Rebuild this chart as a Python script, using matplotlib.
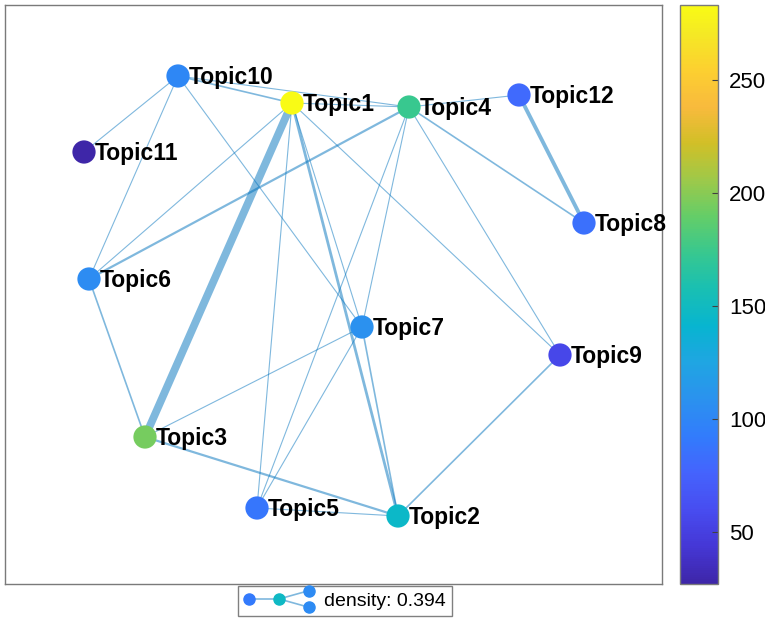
import matplotlib
matplotlib.use('Agg')
import matplotlib.pyplot as plt
from matplotlib.colors import LinearSegmentedColormap
from matplotlib.legend_handler import HandlerBase
from matplotlib.lines import Line2D

plt.rcParams['font.family'] = ['Liberation Sans', 'DejaVu Sans']

# Topic nodes: layout coordinates and node value (colour)
topics = ['Topic1', 'Topic2', 'Topic3', 'Topic4', 'Topic5', 'Topic6',
          'Topic7', 'Topic8', 'Topic9', 'Topic10', 'Topic11', 'Topic12']
node_x = [2.92, 3.98, 1.45, 4.09, 2.57, 0.89, 3.62, 5.84, 5.60, 1.78, 0.84, 5.19]
node_y = [5.17, 1.04, 1.83, 5.13, 1.12, 3.41, 2.93, 3.97, 2.65, 5.44, 4.68, 5.25]
node_value = [283, 145, 194, 173, 88, 104, 108, 84, 55, 100, 27, 80]

# Edges (1-based topic numbers) and their weights
edge_src = [10, 10, 10, 10, 10, 1, 1, 1, 1, 1, 1, 4, 4, 4, 4, 4, 4, 12, 6, 3, 3, 5, 5, 7, 9, 1]
edge_dst = [11, 6, 1, 4, 7, 3, 5, 2, 6, 9, 4, 6, 12, 8, 5, 7, 9, 8, 3, 7, 2, 7, 2, 2, 2, 7]
edge_weight = [2, 2, 3, 2, 2, 14, 2, 5, 2, 2, 2, 4, 2, 3, 2, 2, 2, 7, 3, 2, 4, 2, 2, 3, 3, 2]

cbar_ticks = [50, 100, 150, 200, 250]

# parula-like colormap
parula_pts = [
    (0.2422, 0.1504, 0.6603), (0.2706, 0.2147, 0.8364), (0.2813, 0.3006, 0.9414),
    (0.2699, 0.3892, 0.9906), (0.1963, 0.4847, 0.9892), (0.1687, 0.5703, 0.9359),
    (0.1248, 0.6459, 0.8883), (0.0297, 0.7082, 0.8163), (0.0964, 0.7486, 0.7031),
    (0.2161, 0.7827, 0.5637), (0.3909, 0.8049, 0.4092), (0.6174, 0.7876, 0.2881),
    (0.8203, 0.7498, 0.1535), (0.9728, 0.7298, 0.2394), (0.9892, 0.8136, 0.1885),
    (0.9597, 0.9135, 0.1423), (0.9769, 0.9839, 0.0805)]
parula_pos = [0, 4, 8, 12, 16, 20, 24, 28, 32, 36, 40, 44, 48, 52, 56, 60, 63]
parula = LinearSegmentedColormap.from_list(
    'parula', [(p / 63, c) for p, c in zip(parula_pos, parula_pts)], N=256)

edge_color = (0, 0.447, 0.741)
n = len(topics)
density = 2 * len(edge_src) / (n * (n - 1))


class GraphIconHandler(HandlerBase):
    # small graph icon for the legend entry
    def create_artists(self, legend, orig_handle, xdescent, ydescent,
                       width, height, fontsize, trans):
        x0 = -xdescent
        yc = -ydescent + height / 2
        xs = [x0 + 0.07 * width, x0 + 0.47 * width, x0 + 0.87 * width, x0 + 0.87 * width]
        ys = [yc, yc, yc + 0.62 * height, yc - 0.62 * height]
        cols = [parula(0.25), parula(0.47), parula(0.3), parula(0.3)]
        artists = []
        for a, b in [(0, 1), (1, 2), (1, 3)]:
            artists.append(Line2D([xs[a], xs[b]], [ys[a], ys[b]], color=edge_color,
                                  alpha=0.5, lw=1.2, transform=trans))
        for x, y, c in zip(xs, ys, cols):
            artists.append(Line2D([x], [y], marker='o', ms=8, color=c, lw=0,
                                  transform=trans))
        return artists


fig = plt.figure(figsize=(7.65, 6.2), dpi=100)
ax = fig.add_axes([5 / 765, 36 / 620, 657 / 765, 579 / 620])
cax = fig.add_axes([680 / 765, 36 / 620, 38 / 765, 579 / 620])

# edges
for s, d, w in zip(edge_src, edge_dst, edge_weight):
    ax.plot([node_x[s - 1], node_x[d - 1]], [node_y[s - 1], node_y[d - 1]],
            color=edge_color, alpha=0.5, lw=0.4 * w, solid_capstyle='butt', zorder=1)

# nodes
sc = ax.scatter(node_x, node_y, c=node_value, cmap=parula,
                vmin=min(node_value), vmax=max(node_value), s=280, zorder=2,
                linewidths=0)

for name, x, y in zip(topics, node_x, node_y):
    ax.annotate(name, (x, y), xytext=(8, -1), textcoords='offset points',
                ha='left', va='center', fontsize=16.5, fontweight='bold', zorder=3)

ax.set_xlim(0.05, 6.62)
ax.set_ylim(0.36, 6.15)
ax.set_xticks([])
ax.set_yticks([])
for sp in ax.spines.values():
    sp.set_color('#7a7a7a')
    sp.set_linewidth(1.0)

proxy = Line2D([], [])
leg = ax.legend([proxy], [f'density: {density:.3f}'],
                handler_map={proxy: GraphIconHandler()},
                loc='upper center', bbox_to_anchor=(0.517, -0.004),
                fontsize=14, frameon=True, fancybox=False, framealpha=1,
                handlelength=3.9, handletextpad=0.25, borderpad=0.3,
                borderaxespad=0)
leg.get_frame().set_edgecolor('#808080')
leg.get_frame().set_linewidth(1.0)

cbar = fig.colorbar(sc, cax=cax)
cbar.set_ticks(cbar_ticks)
cbar.ax.tick_params(direction='in', length=4, width=0.8, color='#404040',
                    labelsize=16, pad=8)
cbar.outline.set_edgecolor('#7a7a7a')
cbar.outline.set_linewidth(1.0)

plt.savefig('out.png', dpi=100)
plt.close()
